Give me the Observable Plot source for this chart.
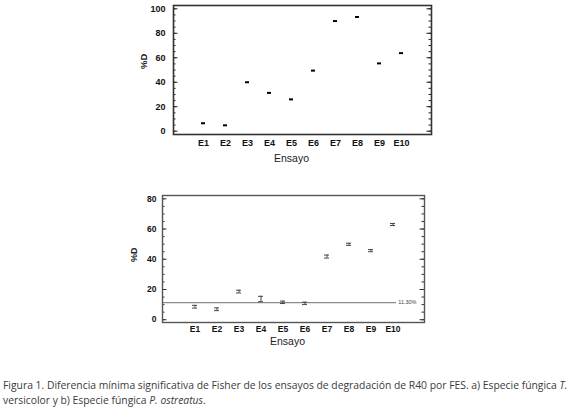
<!DOCTYPE html>
<html>
<head>
<meta charset="utf-8">
<script src="https://cdn.jsdelivr.net/npm/d3@7"></script>
<script src="https://cdn.jsdelivr.net/npm/@observablehq/plot@0.6"></script>
<style>
  html, body { margin: 0; padding: 0; background: #fff; }
  #page { position: relative; width: 580px; height: 409px; overflow: hidden; background: #fff; }
  .chart { position: absolute; left: 0; }
  #caption {
    position: absolute; left: 3px; top: 378px; width: 577px;
    font-family: "Open Sans", Lato, sans-serif; font-size: 10.35px; line-height: 15px; color: #3a3a3a;
    white-space: nowrap;
  }
</style>
</head>
<body>
<div id="page">
  <div id="c1" class="chart" style="top:0px"></div>
  <div id="c2" class="chart" style="top:185px"></div>
  <div id="caption">Figura 1. Diferencia mínima significativa de Fisher de los ensayos de degradación de R40 por FES. a) Especie fúngica <i>T.</i><br>versicolor y b) Especie fúngica <i>P. ostreatus</i>.</div>
</div>
<script>
// ---- Data ----
const ensayos = ["E1","E2","E3","E4","E5","E6","E7","E8","E9","E10"];
// a) T. versicolor (%D)
const valuesA = [6.5, 4.8, 40.0, 31.3, 26.0, 49.5, 90.0, 93.3, 55.4, 63.8];
// b) P. ostreatus (%D)
const valuesB = [8.6, 6.9, 18.6, 13.7, 11.5, 10.8, 41.8, 49.9, 45.7, 63.0];
const errB    = [0.9, 0.9, 0.9, 1.8, 0.8, 0.8, 1.0, 0.7, 0.7, 0.7];
const lsdB = 11.3;
const lsdLabel = "11.30%";
const yTicksA = [0, 20, 40, 60, 80, 100];
const yMinorA = d3.range(0, 101, 5);
const yTicksB = [0, 20, 40, 60, 80];
const yMinorB = d3.range(0, 81, 5);
const xLabel = "Ensayo";
const yLabel = "%D";

const rowsA = ensayos.map((e, i) => ({e, v: valuesA[i]}));
const rowsB = ensayos.map((e, i) => ({e, v: valuesB[i], lo: valuesB[i] - errB[i], hi: valuesB[i] + errB[i]}));

function insideTicks(ticks, plotW, len, stroke) {
  return [
    Plot.tickY(ticks, {y: d => d, insetRight: plotW - len, stroke, strokeWidth: 1}),
    Plot.tickY(ticks, {y: d => d, insetLeft: plotW - len, stroke, strokeWidth: 1})
  ];
}

// ---- Chart a ----
{
  const W = 580, H = 175, mL = 173, mR = 149, mT = 5, mB = 41;
  const plotW = W - mL - mR;
  const chart = Plot.plot({
    width: W, height: H, marginLeft: mL, marginRight: mR, marginTop: mT, marginBottom: mB,
    style: {fontFamily: "'Liberation Sans', Arial, sans-serif", fontSize: "9px", color: "#111", background: "#fff"},
    x: {type: "band", domain: ensayos, paddingInner: 0.80, paddingOuter: 1.225},
    y: {domain: [-2.7, 102.7]},
    marks: [
      Plot.axisY(yTicksA, {tickSize: 0, tickPadding: 8, fontWeight: "bold", label: null}),
      Plot.axisX({tickSize: 0, tickPadding: 5, fontWeight: "bold", label: null}),
      ...insideTicks(yTicksA, plotW, 4.5, "#222"),
      ...insideTicks(yMinorA, plotW, 2.5, "#222"),
      Plot.frame({stroke: "#333", strokeWidth: 1.6}),
      Plot.tickY(rowsA, {x: "e", y: "v", stroke: "#000", strokeWidth: 2}),
      Plot.text([xLabel], {frameAnchor: "bottom", dy: 27, dx: -11, fontSize: 10.5, fill: "#222"}),
      Plot.text([yLabel], {frameAnchor: "left", rotate: -90, dx: -30, dy: -1, fontSize: 9.5, fontWeight: "bold", fill: "#222"})
    ]
  });
  document.getElementById("c1").appendChild(chart);
}

// ---- Chart b ----
{
  const W = 580, H = 170, mL = 162, mR = 156, mT = 10, mB = 33;
  const plotW = W - mL - mR;
  const chart = Plot.plot({
    width: W, height: H, marginLeft: mL, marginRight: mR, marginTop: mT, marginBottom: mB,
    style: {fontFamily: "'Liberation Sans', Arial, sans-serif", fontSize: "8.5px", color: "#111", background: "#fff"},
    x: {type: "band", domain: ensayos, paddingInner: 0.78, paddingOuter: 1.19},
    y: {domain: [-1.85, 82.2]},
    marks: [
      Plot.axisY(yTicksB, {tickSize: 0, tickPadding: 6, fontWeight: "bold", label: null}),
      Plot.axisX({tickSize: 0, tickPadding: 3, fontWeight: "bold", letterSpacing: "1.2px", label: null}),
      ...insideTicks(yTicksB, plotW, 4.5, "#333"),
      ...insideTicks(yMinorB, plotW, 2.5, "#333"),
      Plot.ruleY([lsdB], {stroke: "#8a8a8a", strokeWidth: 1.3, insetRight: 28}),
      Plot.text([lsdB], {y: d => d, text: () => lsdLabel, frameAnchor: "right", textAnchor: "end", dx: -8, fontSize: 5.5, fill: "#444"}),
      Plot.frame({stroke: "#555", strokeWidth: 1.4}),
      Plot.ruleX(rowsB, {x: "e", y1: "lo", y2: "hi", stroke: "#444", strokeWidth: 1}),
      Plot.tickY(rowsB, {x: "e", y: "lo", stroke: "#444", strokeWidth: 1}),
      Plot.tickY(rowsB, {x: "e", y: "hi", stroke: "#444", strokeWidth: 1}),
      Plot.text([xLabel], {frameAnchor: "bottom", dy: 22, dx: -6, fontSize: 10.5, fill: "#222"}),
      Plot.text([yLabel], {frameAnchor: "left", rotate: -90, dx: -28, dy: 3, fontSize: 9, fontWeight: "bold", fill: "#222"})
    ]
  });
  document.getElementById("c2").appendChild(chart);
}
</script>
</body>
</html>
